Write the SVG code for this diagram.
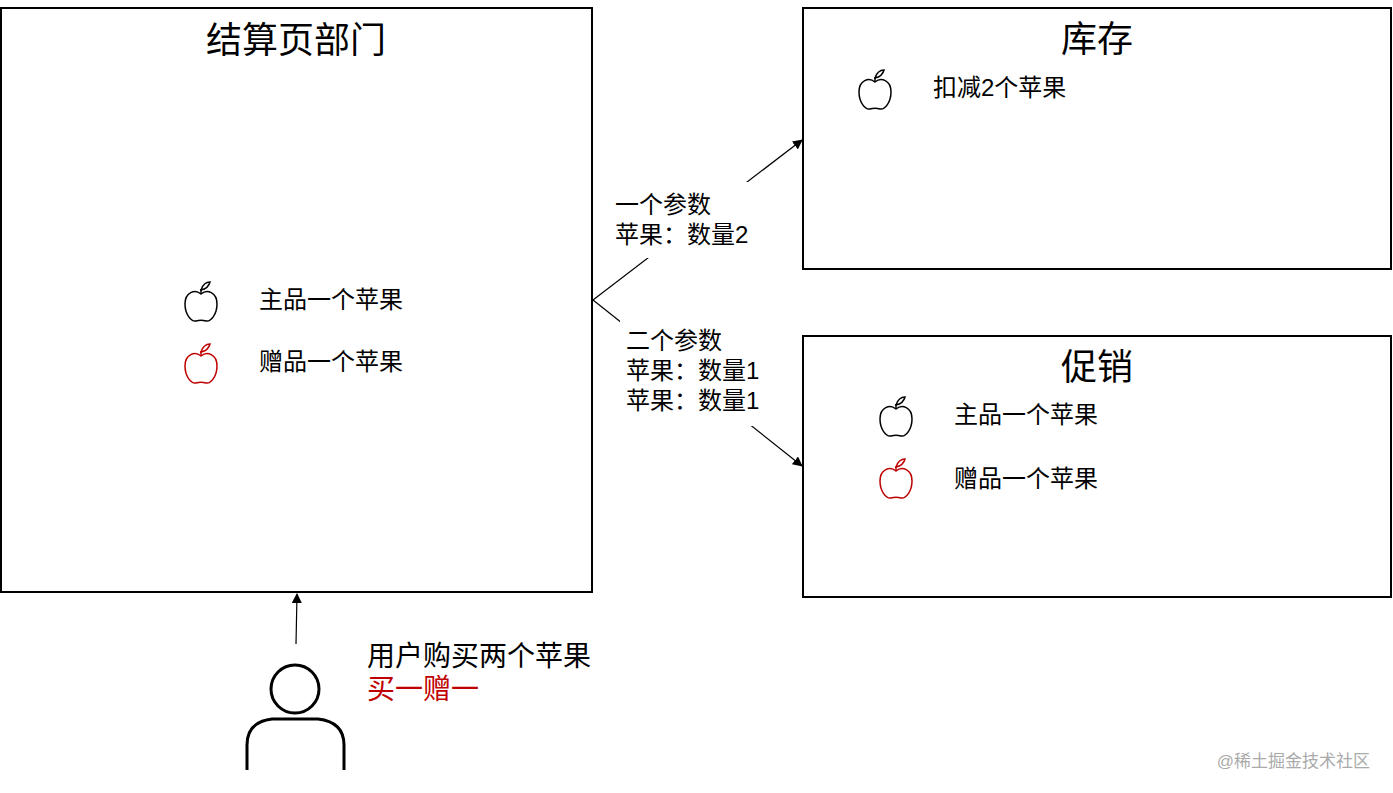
<svg xmlns="http://www.w3.org/2000/svg" width="1393" height="793" viewBox="0 0 1393 793">
<style>
.box{fill:#fff;stroke:#000;stroke-width:2}
text{font-family:"Liberation Sans","Noto Sans CJK SC",sans-serif;fill:#000}
.t{font-size:36px}
.l{font-size:24px}
.c{stroke:#000;stroke-width:1.2;fill:none}
.apple{fill:none;stroke-width:1.5}
</style>
<defs>
<marker id="ah" markerWidth="10" markerHeight="10" refX="9" refY="5" orient="auto" markerUnits="userSpaceOnUse"><path d="M0,0 L10,5 L0,10 Z" fill="#000"/></marker>
<g id="apple" class="apple"><path d="M0,-8 C-6,-13 -16,-10 -16,2 C-16,12 -10,20 -5,19 C-2,18 2,18 5,19 C10,20 16,12 16,2 C16,-10 6,-13 0,-8 Z"/><path d="M0,-8 L0,-13"/><path d="M0,-12 C2,-18 6,-20 9,-20 C8,-16 5,-13 0,-12 Z"/></g>
</defs>
<g id="connectors">
<line class="c" x1="593" y1="300" x2="802" y2="140" marker-end="url(#ah)"/>
<line class="c" x1="593" y1="300" x2="802" y2="466" marker-end="url(#ah)"/>
<line class="c" x1="296" y1="644" x2="297" y2="594" marker-end="url(#ah)"/>
<rect x="612" y="182" width="160" height="76" fill="#fff"/>
<rect x="620" y="318" width="150" height="108" fill="#fff"/>
<text class="l" x="615" y="213">一个参数</text>
<text class="l" x="615" y="243">苹果：数量2</text>
<text class="l" x="626" y="349">二个参数</text>
<text class="l" x="626" y="379">苹果：数量1</text>
<text class="l" x="626" y="409">苹果：数量1</text>
</g>
<g id="checkout">
<rect class="box" x="1" y="8" width="591" height="584"/>
<text class="t" x="296" y="53" text-anchor="middle">结算页部门</text>
<use href="#apple" x="201" y="302" stroke="#000"/>
<text class="l" x="259" y="308">主品一个苹果</text>
<use href="#apple" x="201" y="364" stroke="#c00000"/>
<text class="l" x="259" y="370">赠品一个苹果</text>
</g>
<g id="stock">
<rect class="box" x="803" y="8" width="588" height="261"/>
<text class="t" x="1097" y="52" text-anchor="middle">库存</text>
<use href="#apple" x="875" y="90" stroke="#000"/>
<text class="l" x="933" y="96">扣减2个苹果</text>
</g>
<g id="promo">
<rect class="box" x="803" y="336" width="588" height="261"/>
<text class="t" x="1097" y="380" text-anchor="middle">促销</text>
<use href="#apple" x="896" y="417" stroke="#000"/>
<text class="l" x="954" y="423">主品一个苹果</text>
<use href="#apple" x="896" y="479" stroke="#c00000"/>
<text class="l" x="954" y="487">赠品一个苹果</text>
</g>
<g id="user">
<circle cx="295" cy="689" r="24" fill="none" stroke="#000" stroke-width="3"/>
<path d="M247,770 L247,745 Q247,722 272,719 L318,719 Q344,722 344,745 L344,770" fill="none" stroke="#000" stroke-width="3"/>
<text x="367" y="666" style="font-size:28px">用户购买两个苹果</text>
<text x="367" y="699" style="font-size:28px;fill:#c00000">买一赠一</text>
</g>
<text x="1370" y="767" text-anchor="end" style="font-size:17px;fill:#aaa">@稀土掘金技术社区</text>
</svg>
